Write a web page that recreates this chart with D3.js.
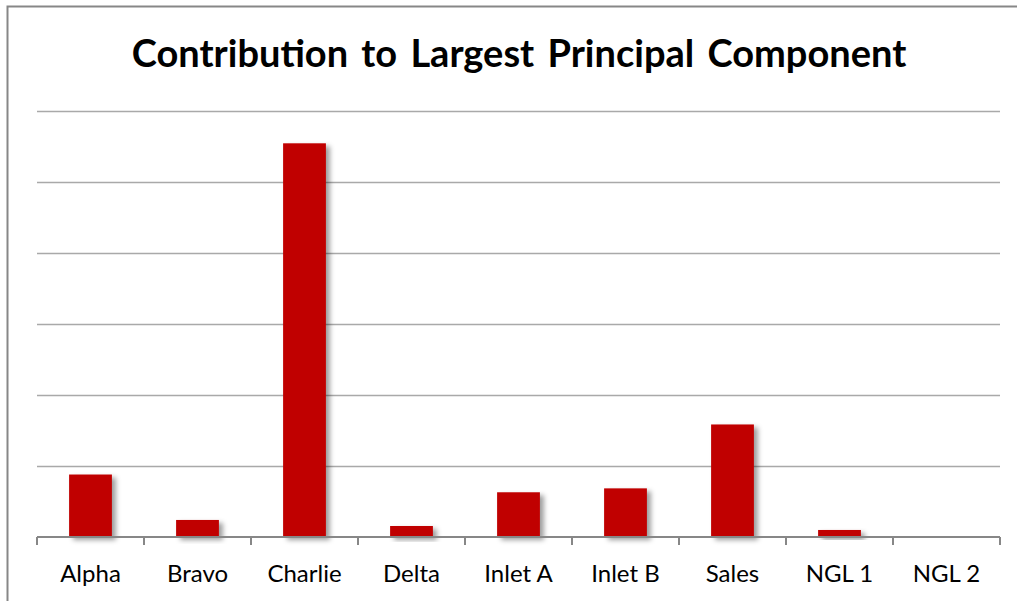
<!DOCTYPE html>
<html>
<head>
<meta charset="utf-8">
<script src="https://cdn.jsdelivr.net/npm/d3@7"></script>
<style>
  html, body { margin: 0; padding: 0; background: #fff; }
  svg { display: block; }
</style>
</head>
<body>
<svg id="chart" width="1017" height="601"></svg>
<script>
// Chart data
const categories = ["Alpha", "Bravo", "Charlie", "Delta", "Inlet A", "Inlet B", "Sales", "NGL 1", "NGL 2"];
const contributions = [0.088, 0.024, 0.5545, 0.0155, 0.063, 0.0685, 0.1585, 0.0099, 0.0004];
const gridTicks = [0.1, 0.2, 0.3, 0.4, 0.5, 0.6];
const titleText = "Contribution to Largest Principal Component";

const W = 1017, H = 601;
const plot = { left: 37, right: 1000, top: 111, bottom: 537 };

const svg = d3.select("#chart");

// Drop shadow for the bars
const defs = svg.append("defs");
const f = defs.append("filter").attr("id", "barShadow")
  .attr("x", "-20%").attr("y", "-20%").attr("width", "160%").attr("height", "160%");
f.append("feDropShadow")
  .attr("dx", 4).attr("dy", 3).attr("stdDeviation", 2.6)
  .attr("flood-color", "#000").attr("flood-opacity", 0.38);

// Outer chart-area border
svg.append("rect")
  .attr("x", 7.5).attr("y", 6.5)
  .attr("width", W + 20).attr("height", H + 20)
  .attr("fill", "none").attr("stroke", "#878787").attr("stroke-width", 2);

const x = d3.scaleBand()
  .domain(categories)
  .range([plot.left, plot.right])
  .paddingInner(0.6)
  .paddingOuter(0.3);

const y = d3.scaleLinear()
  .domain([0, d3.max(gridTicks)])
  .range([plot.bottom, plot.top]);

// Horizontal gridlines
svg.append("g")
  .attr("transform", `translate(${plot.left},0)`)
  .call(d3.axisLeft(y).tickValues(gridTicks).tickSize(-(plot.right - plot.left)).tickFormat(""))
  .call(g => g.select(".domain").remove())
  .call(g => g.selectAll(".tick line")
    .attr("stroke", "#a9a9a9").attr("stroke-width", 1.6));

// Bars
svg.append("g").selectAll("rect")
  .data(categories.map((c, i) => ({ c, v: contributions[i] })))
  .join("rect")
  .attr("x", d => x(d.c))
  .attr("y", d => y(d.v))
  .attr("width", x.bandwidth())
  .attr("height", d => y(0) - y(d.v))
  .attr("fill", "#c00000")
  .attr("filter", "url(#barShadow)");

// Category axis: baseline plus boundary tick marks
const boundaries = d3.range(categories.length + 1).map(i => plot.left + i * x.step());
const axisG = svg.append("g");
axisG.append("line")
  .attr("x1", plot.left).attr("x2", plot.right)
  .attr("y1", y(0)).attr("y2", y(0))
  .attr("stroke", "#878787").attr("stroke-width", 2);
axisG.selectAll("line.tick")
  .data(boundaries)
  .join("line")
  .attr("class", "tick")
  .attr("x1", d => d).attr("x2", d => d)
  .attr("y1", y(0)).attr("y2", y(0) + 8)
  .attr("stroke", "#878787").attr("stroke-width", 2);

// Category labels
svg.append("g").selectAll("text")
  .data(categories)
  .join("text")
  .attr("x", d => x(d) + x.bandwidth() / 2)
  .attr("y", 582)
  .attr("text-anchor", "middle")
  .attr("font-family", "Lato, 'Open Sans', sans-serif")
  .attr("font-size", 24)
  .attr("fill", "#000")
  .text(d => d);

// Title, sized to span the header width
const title = svg.append("text")
  .attr("x", 519)
  .attr("y", 67)
  .attr("text-anchor", "middle")
  .attr("font-family", "Lato, 'Open Sans', sans-serif")
  .attr("font-weight", "bold")
  .attr("font-size", 32)
  .attr("word-spacing", 4)
  .attr("fill", "#000")
  .text(titleText);
const tw = title.node().getComputedTextLength();
title.attr("font-size", Math.min(40, 32 * 778 / tw));
</script>
</body>
</html>
